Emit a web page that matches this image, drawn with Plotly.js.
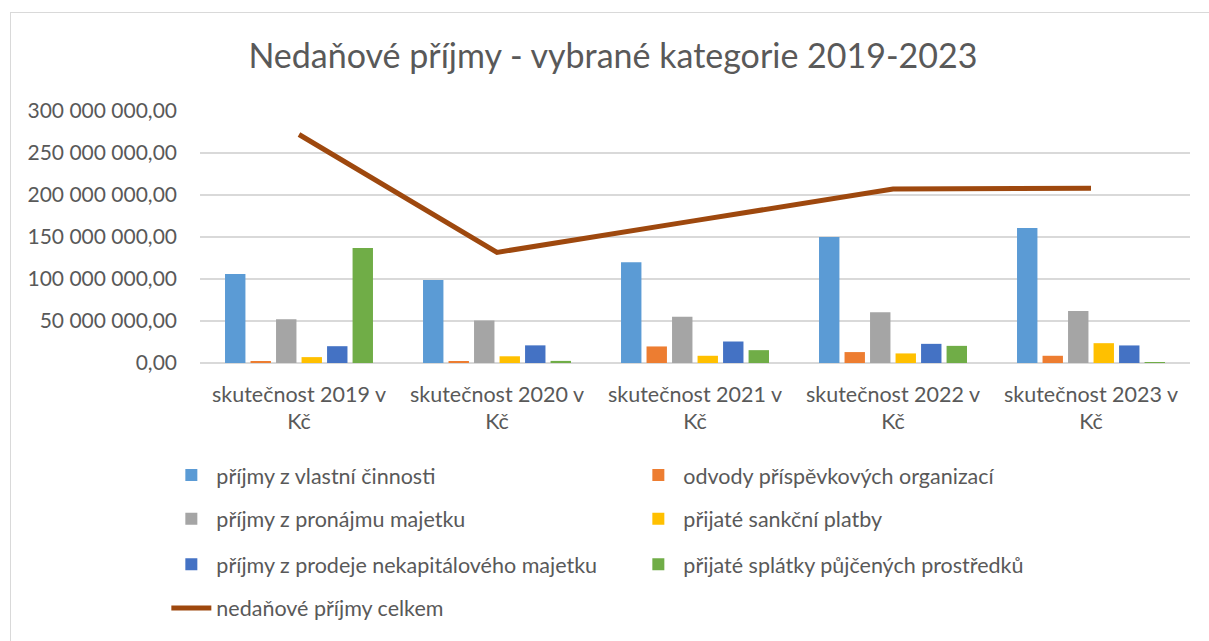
<!DOCTYPE html>
<html>
<head>
<meta charset="utf-8">
<script src="https://cdn.plot.ly/plotly-3.0.1.min.js"></script>
<style>
  html, body { margin: 0; padding: 0; background: #fff; }
  #wrap { position: relative; width: 1209px; height: 641px; }
  #chart { width: 1209px; height: 641px; }
  #frame { position: absolute; left: 10px; top: 12px; width: 1230px; height: 700px;
           border: 1px solid #D9D9D9; pointer-events: none; box-sizing: border-box; }
</style>
</head>
<body>
<div id="wrap">
  <div id="chart"></div>
  <div id="frame"></div>
</div>
<script>
const categories = [
  "skutečnost 2019 v<br>Kč",
  "skutečnost 2020 v<br>Kč",
  "skutečnost 2021 v<br>Kč",
  "skutečnost 2022 v<br>Kč",
  "skutečnost 2023 v<br>Kč"
];
const seriesNames = [
  "příjmy z vlastní činnosti",
  "odvody příspěvkových organizací",
  "příjmy z pronájmu majetku",
  "přijaté sankční platby",
  "příjmy z prodeje nekapitálového majetku",
  "přijaté splátky půjčených prostředků"
];
const vlastniCinnost   = [106000000,  98700000, 120000000, 150000000, 160700000];
const odvodyPO         = [  2200000,   2000000,  19700000,  13000000,   8600000];
const pronajemMajetku  = [ 52000000,  50700000,  55000000,  60500000,  62000000];
const sankcniPlatby    = [  7000000,   8000000,   8600000,  11400000,  23600000];
const prodejNekap      = [ 20000000,  21000000,  25600000,  22800000,  20900000];
const splatkyPujcek    = [137000000,   2500000,  15300000,  20400000,    800000];
const lineName = "nedaňové příjmy celkem";
const nedanoveCelkem   = [272000000, 131700000, 169500000, 207000000, 208000000];

const barValues = [vlastniCinnost, odvodyPO, pronajemMajetku, sankcniPlatby, prodejNekap, splatkyPujcek];
const barColors = ["#5B9BD5", "#ED7D31", "#A5A5A5", "#FFC000", "#4472C4", "#70AD47"];
const legendIds = ["legend", "legend", "legend2", "legend2", "legend3", "legend3"];

const FONT = "Lato, 'Open Sans', sans-serif";
const TXT = "#595959";

const traces = barValues.map((vals, i) => ({
  type: "bar",
  name: seriesNames[i],
  x: categories,
  y: vals,
  marker: { color: barColors[i] },
  legend: legendIds[i],
  hoverinfo: "name+y"
}));
traces.push({
  type: "scatter",
  mode: "lines",
  name: lineName,
  x: categories,
  y: nedanoveCelkem,
  line: { color: "#9E480E", width: 5 },
  legend: "legend4",
  hoverinfo: "name+y"
});

function legendAt(yPaper) {
  return {
    orientation: "h",
    x: -0.034,
    xanchor: "left",
    y: yPaper,
    yanchor: "middle",
    entrywidth: 412,
    entrywidthmode: "pixels",
    font: { family: FONT, size: 21.5, color: TXT },
    traceorder: "normal",
    itemwidth: 40,
    bgcolor: "rgba(0,0,0,0)"
  };
}

const layout = {
  width: 1209,
  height: 641,
  paper_bgcolor: "#FFFFFF",
  plot_bgcolor: "#FFFFFF",
  separators: ", ",
  margin: { l: 200, r: 19, t: 111, b: 276 },
  font: { family: FONT, color: TXT, size: 18 },
  title: {
    text: "Nedaňové příjmy - vybrané kategorie 2019-2023",
    font: { family: FONT, size: 34, color: TXT },
    x: 0.507, xanchor: "center",
    y: 0.912, yanchor: "middle"
  },
  barmode: "group",
  bargap: 0.227,
  bargroupgap: 0.2,
  xaxis: {
    type: "category",
    tickfont: { family: FONT, size: 21.5, color: TXT },
    showgrid: false,
    showline: false,
    ticks: "",
    ticklabelstandoff: 16
  },
  yaxis: {
    range: [0, 300000000],
    dtick: 50000000,
    tick0: 0,
    tickformat: ",.2f",
    tickfont: { family: FONT, size: 21, color: TXT },
    gridcolor: "#D9D9D9",
    gridwidth: 1.5,
    zeroline: true,
    zerolinecolor: "#D9D9D9",
    zerolinewidth: 1.5,
    showline: false,
    ticks: "",
    ticklabelstandoff: 22
  },
  showlegend: true,
  legend: legendAt(-0.445),
  legend2: legendAt(-0.618),
  legend3: legendAt(-0.799),
  legend4: legendAt(-0.972)
};

Plotly.newPlot("chart", traces, layout, { displayModeBar: false, responsive: false });
</script>
</body>
</html>
